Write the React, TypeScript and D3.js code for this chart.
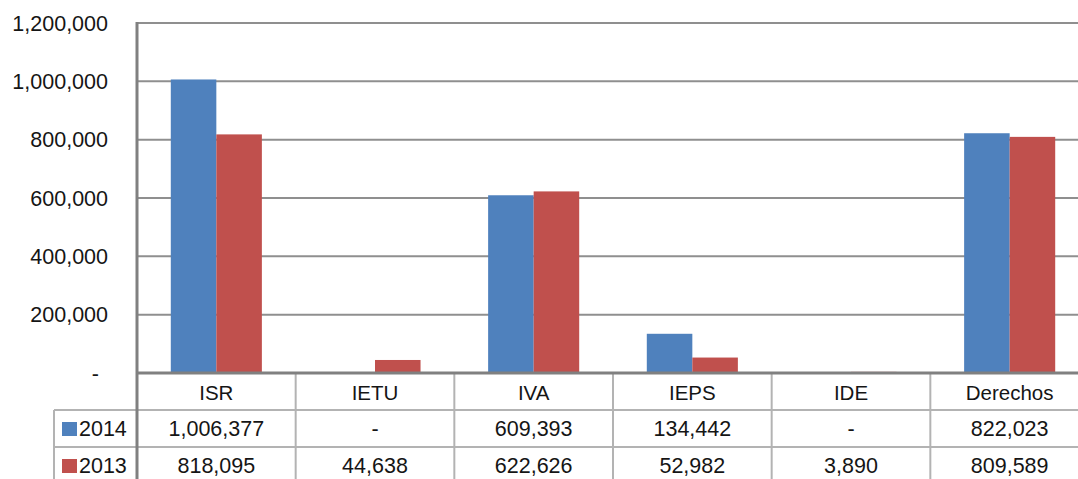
import React from 'react';
import * as d3 from 'd3';

// categories and series
const categories = ['ISR', 'IETU', 'IVA', 'IEPS', 'IDE', 'Derechos'];
const seriesNames = ['2014', '2013'];
const values2014 = [1006377, 0, 609393, 134442, 0, 822023];
const values2013 = [818095, 44638, 622626, 52982, 3890, 809589];
const yTicks = [0, 200000, 400000, 600000, 800000, 1000000, 1200000];

const colors = ['#4F81BD', '#C0504D'];
const W = 1078;
const H = 479;
const font = '"Liberation Sans", Arial, sans-serif';

const fmt = (v: number) => (v === 0 ? '-' : d3.format(',')(v));

const App = (): React.ReactElement => {
  const margin = { top: 23, left: 137, right: -11, bottom: 106 };
  const plotBottom = H - margin.bottom;
  const plotRight = W - margin.right;

  const y = d3.scaleLinear().domain([0, 1200000]).range([plotBottom, margin.top]);
  const x0 = d3
    .scaleBand<string>()
    .domain(categories)
    .range([margin.left, plotRight])
    .paddingInner(0.426)
    .paddingOuter(0.213);
  const x1 = d3.scaleBand<string>().domain(seriesNames).range([0, x0.bandwidth()]);
  const step = x0.step();
  const series = [values2014, values2013];

  const rowTop = [plotBottom, 410, 447];
  const rowH = 37;
  const legendLeft = 54;
  const colEdges = categories.map((_, i) => margin.left + i * step);

  return (
    <svg width={W} height={H} style={{ position: 'absolute', left: 0, top: 0, display: 'block' }}>
      <rect width={W} height={H} fill="#fff" />
      {/* gridlines */}
      {yTicks.slice(1).map((t) => (
        <line key={t} x1={margin.left} x2={W} y1={y(t)} y2={y(t)} stroke="#8f8f8f" strokeWidth={2} />
      ))}
      {/* y tick labels */}
      {yTicks.map((t) => (
        <text
          key={t}
          x={t === 0 ? 99 : 108}
          y={y(t)}
          dy="0.36em"
          textAnchor="end"
          fontFamily={font}
          fontSize={21.5}
          fill="#151515"
        >
          {fmt(t)}
        </text>
      ))}
      {/* bars */}
      {categories.map((c, i) => (
        <g key={c} transform={`translate(${x0(c)},0)`}>
          {series.map((s, j) => (
            <rect
              key={j}
              x={x1(seriesNames[j])}
              y={y(s[i])}
              width={x1.bandwidth()}
              height={plotBottom - y(s[i])}
              fill={colors[j]}
            />
          ))}
        </g>
      ))}
      {/* data table lines */}
      {[410, 447].map((ly) => (
        <line key={ly} x1={legendLeft} x2={W} y1={ly} y2={ly} stroke="#b3b3b3" strokeWidth={2} />
      ))}
      <line x1={legendLeft} x2={legendLeft} y1={410} y2={H} stroke="#b3b3b3" strokeWidth={2} />
      {colEdges.slice(1).map((cx) => (
        <line key={cx} x1={cx} x2={cx} y1={plotBottom} y2={H} stroke="#b3b3b3" strokeWidth={2} />
      ))}
      {/* axes */}
      <line x1={margin.left} x2={margin.left} y1={margin.top - 1} y2={H} stroke="#808080" strokeWidth={3} />
      <line x1={margin.left} x2={W} y1={plotBottom} y2={plotBottom} stroke="#808080" strokeWidth={3} />
      {/* header row */}
      {categories.map((c) => (
        <text
          key={c}
          x={(x0(c) as number) + x0.bandwidth() / 2}
          y={rowTop[0] + rowH / 2 + 1}
          dy="0.36em"
          textAnchor="middle"
          fontFamily={font}
          fontSize={20.5}
          fill="#151515"
        >
          {c}
        </text>
      ))}
      {/* value rows */}
      {series.map((s, j) => (
        <g key={j}>
          <rect x={62} y={rowTop[j + 1] + 12} width={15} height={14} fill={colors[j]} />
          <text x={79} y={rowTop[j + 1] + rowH / 2} dy="0.36em" fontFamily={font} fontSize={21.5} fill="#151515">
            {seriesNames[j]}
          </text>
          {categories.map((c, i) => (
            <text
              key={c}
              x={(x0(c) as number) + x0.bandwidth() / 2}
              y={rowTop[j + 1] + rowH / 2}
              dy="0.36em"
              textAnchor="middle"
              fontFamily={font}
              fontSize={21.5}
              fill="#151515"
            >
              {fmt(s[i])}
            </text>
          ))}
        </g>
      ))}
    </svg>
  );
};

export default App;
